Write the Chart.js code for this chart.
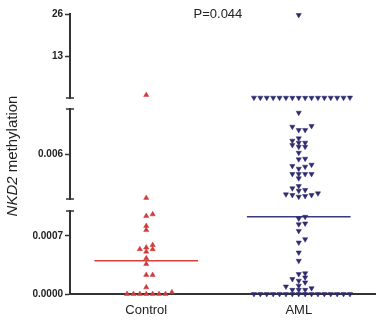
<!DOCTYPE html>
<html lang="en">
<head>
  <meta charset="UTF-8">
  <title>NKD2 methylation</title>
  <script src="https://cdn.jsdelivr.net/npm/chart.js"></script>
  <style>
    html, body { margin: 0; padding: 0; background: #fff; }
    #wrap { width: 381px; height: 326px; }
  </style>
</head>
<body>
  <div id="wrap"><canvas id="dotChart"></canvas></div>

  <script>
    // values
    const categories = ['Control', 'AML'];
    const controlValues = [
      0.93, 0.00112,
      0.00096, 0.00094, 0.00082, 0.00077, 0.00059, 0.00056, 0.00054, 0.00054, 0.00051,
      0.00043, 0.00036, 0.00023, 0.00023, 0.00008, 0.00002,
      0, 0, 0, 0, 0, 0, 0
    ];
    const amlValues = [
      25.7,
      0.12, 0.11, 0.1, 0.1, 0.09, 0.09, 0.09, 0.08, 0.08, 0.08, 0.07, 0.07, 0.06, 0.06, 0.05, 0.05,
      0.01059, 0.00911, 0.00903, 0.00867, 0.00867, 0.00774, 0.00748, 0.00726, 0.00726, 0.007,
      0.00681, 0.00681, 0.00614, 0.00548, 0.00541, 0.00481, 0.00467, 0.00459, 0.00437,
      0.00378, 0.00378, 0.00378, 0.00378, 0.0033, 0.00244, 0.00219, 0.002, 0.00192,
      0.00163, 0.00152, 0.00144, 0.00144, 0.00133, 0.00126,
      0.00093, 0.00091, 0.00085, 0.00084, 0.00076, 0.00066, 0.00062, 0.0005, 0.0004,
      0.00025, 0.00024, 0.0002, 0.00018, 0.00016, 0.00014, 0.0001, 0.00009,
      0.00007, 0.00005, 0.00005, 0.00005,
      0, 0, 0, 0, 0, 0, 0, 0, 0, 0, 0, 0, 0, 0, 0, 0
    ];
    const medians = [0.0004, 0.00093];
    const pValue = 'P=0.044';
    const topTicks = [13, 26];
    const midTicks = [0.006];
    const lowTicks = [0, 0.0007];

    const groupValues = [controlValues, amlValues];
    const colors = ['#cf3b3b', '#2d2b6e'];
    const lineColors = ['#d9413f', '#3c3a7e'];
    const FONT = '"Liberation Sans", Arial, sans-serif';
    const STEP = 6.4;

    function segmentOf(v) {
      if (v < 0.001) return 'yLow';
      if (v < 0.011) return 'yMid';
      return 'yTop';
    }

    const datasets = [];
    groupValues.forEach((vals, i) => {
      ['yLow', 'yMid', 'yTop'].forEach(seg => {
        datasets.push({
          type: 'scatter',
          group: i,
          yAxisID: seg,
          data: vals.filter(v => segmentOf(v) === seg).map(v => ({ x: i + 1, y: v })),
          pointStyle: 'triangle',
          rotation: i === 1 ? 180 : 0,
          pointRadius: 3,
          pointBorderWidth: 0.5,
          backgroundColor: colors[i],
          borderColor: colors[i],
          clip: false
        });
      });
      datasets.push({
        type: 'line',
        yAxisID: 'yLow',
        data: [{ x: i + 1 - 0.34, y: medians[i] }, { x: i + 1 + 0.34, y: medians[i] }],
        borderColor: lineColors[i],
        borderWidth: 1.5,
        pointRadius: 0,
        clip: false
      });
    });

    const tickFont = { family: FONT, size: 10, weight: 'bold' };
    const Y_WIDTH = 37;

    function segAxis(min, max, weight, ticks, digits) {
      return {
        type: 'linear',
        position: 'left',
        stack: 'y',
        stackWeight: weight,
        min: min,
        max: max,
        afterBuildTicks: s => { s.ticks = ticks.map(v => ({ value: v })); },
        afterFit: s => { s.width = Y_WIDTH; },
        ticks: {
          font: tickFont,
          color: '#222',
          padding: 2,
          autoSkip: false,
          callback: v => digits == null ? String(v) : Number(v).toFixed(digits)
        },
        grid: { drawOnChartArea: false, drawTicks: true, tickLength: 5, tickColor: '#333', tickWidth: 1.5 },
        border: { display: true, color: '#333', width: 2 }
      };
    }

    function gapAxis(weight) {
      return {
        type: 'linear',
        position: 'left',
        stack: 'y',
        stackWeight: weight,
        min: 0,
        max: 1,
        afterFit: s => { s.width = Y_WIDTH; },
        ticks: { display: false },
        grid: { display: false },
        border: { display: false }
      };
    }

    // caps at the axis breaks, P value and the y title
    const decor = {
      id: 'decor',
      afterDraw(chart) {
        const ctx = chart.ctx;
        const { x, yTop, yMid, yLow } = chart.scales;
        const ax = chart.chartArea.left;
        ctx.save();
        ctx.strokeStyle = '#333';
        ctx.lineWidth = 1.5;
        [yTop.bottom, yMid.top, yMid.bottom, yLow.top].forEach(py => {
          ctx.beginPath();
          ctx.moveTo(ax - 4, py);
          ctx.lineTo(ax + 4, py);
          ctx.stroke();
        });

        ctx.fillStyle = '#222';
        ctx.font = '13px ' + FONT;
        ctx.textAlign = 'center';
        ctx.textBaseline = 'middle';
        ctx.fillText(pValue, x.getPixelForValue(1.47), yTop.top);

        ctx.translate(13, 156);
        ctx.rotate(-Math.PI / 2);
        ctx.textAlign = 'left';
        const it = 'italic 15px ' + FONT, rg = '15px ' + FONT;
        ctx.font = it;
        const w1 = ctx.measureText('NKD2').width;
        ctx.font = rg;
        const w2 = ctx.measureText(' methylation').width;
        const start = -(w1 + w2) / 2;
        ctx.font = it;
        ctx.fillText('NKD2', start, 0);
        ctx.font = rg;
        ctx.fillText(' methylation', start + w1, 0);
        ctx.restore();
      }
    };

    const chart = new Chart(document.getElementById('dotChart'), {
      type: 'scatter',
      data: { datasets: datasets },
      options: {
        responsive: true,
        maintainAspectRatio: false,
        animation: false,
        layout: { padding: { left: 33, right: 6, top: 14, bottom: 6 } },
        plugins: { legend: { display: false }, tooltip: { enabled: false } },
        scales: {
          x: {
            type: 'linear',
            min: 0.5,
            max: 2.5,
            afterBuildTicks: s => { s.ticks = categories.map((c, i) => ({ value: i + 1 })); },
            afterFit: s => { s.height = 26; },
            ticks: {
              font: { family: FONT, size: 13 },
              color: '#222',
              padding: 9,
              callback: v => categories[v - 1]
            },
            grid: { display: false, drawTicks: false },
            border: { display: true, color: '#333', width: 2 }
          },
          yLow: segAxis(0, 0.001, 83, lowTicks, 4),
          gapB: gapAxis(12),
          yMid: segAxis(0.001, 0.011, 90, midTicks, 3),
          gapA: gapAxis(11),
          yTop: segAxis(0, 26, 84, topTicks, null)
        }
      },
      plugins: [decor]
    });

    // spread the points sideways so they don't overlap (beeswarm)
    function swarm() {
      const xs = chart.scales.x;
      categories.forEach((c, i) => {
        const pts = [];
        chart.data.datasets.forEach(ds => {
          if (ds.group !== i) return;
          const ys = chart.scales[ds.yAxisID];
          ds.data.forEach(p => pts.push({ p: p, py: ys.getPixelForValue(p.y) }));
        });
        pts.sort((a, b) => b.py - a.py);
        const cx = xs.getPixelForValue(i + 1);
        const placed = [];
        pts.forEach(o => {
          for (let k = 0; k < 200; k++) {
            const off = (k % 2 ? 1 : -1) * Math.ceil(k / 2) * STEP;
            const px = cx + off;
            const hit = placed.some(q => Math.abs(q.py - o.py) < 4 && Math.abs(q.px - px) < STEP - 0.5);
            if (!hit) { o.px = px; break; }
          }
          placed.push(o);
          o.p.x = xs.getValueForPixel(o.px);
        });
      });
      chart.update('none');
    }
    swarm();
  </script>
</body>
</html>
